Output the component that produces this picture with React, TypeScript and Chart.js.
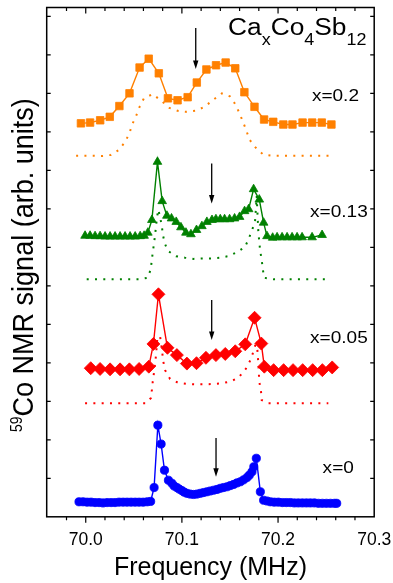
import React, { useEffect, useRef } from 'react';
import { Chart, registerables } from 'chart.js';

Chart.register(...registerables);

// ---------- axes ----------
const X_MIN = 69.9594;
const X_MAX = 70.3;
const Y_MIN = 0;
const Y_MAX = 13.23;
const X_TICKS = [70.0, 70.1, 70.2, 70.3];
const X_MINOR_TICKS = [69.98, 70.0, 70.02, 70.04, 70.06, 70.08, 70.1, 70.12, 70.14, 70.16, 70.18, 70.2, 70.22, 70.24, 70.26, 70.28];
const Y_TICKS = [1, 2, 3, 4, 5, 6, 7, 8, 9, 10, 11, 12, 13];

// ---------- x = 0.2 (orange squares) ----------
const F_02 = [69.995, 70.0045, 70.015, 70.025, 70.035, 70.0455, 70.056, 70.0655, 70.076, 70.0855, 70.0955, 70.106, 70.1155, 70.1255, 70.1355, 70.1455, 70.1555, 70.165, 70.1755, 70.1855, 70.195, 70.2055, 70.215, 70.2255, 70.2355, 70.2455, 70.2555];
const S_02 = [10.22, 10.24, 10.30, 10.39, 10.67, 11.00, 11.67, 11.90, 11.52, 10.87, 10.82, 10.90, 11.28, 11.62, 11.73, 11.80, 11.65, 11.03, 10.65, 10.32, 10.26, 10.19, 10.19, 10.24, 10.24, 10.24, 10.19];
const SIM_F_02 = [69.990, 69.998, 70.0075, 70.0165, 70.026, 70.0345, 70.041, 70.0455, 70.0485, 70.0525, 70.056, 70.0605, 70.0695, 70.0785, 70.087, 70.0965, 70.105, 70.115, 70.1235, 70.132, 70.1415, 70.150, 70.1555, 70.160, 70.1635, 70.167, 70.170, 70.176, 70.1845, 70.194, 70.213, 70.2335, 70.2575];
const SIM_S_02 = [9.38, 9.38, 9.38, 9.37, 9.40, 9.53, 9.74, 9.97, 10.20, 10.42, 10.65, 10.87, 10.98, 10.81, 10.62, 10.54, 10.52, 10.55, 10.65, 10.82, 11.00, 10.92, 10.72, 10.48, 10.26, 10.04, 9.81, 9.61, 9.41, 9.38, 9.38, 9.38, 9.38];

// ---------- x = 0.13 (green triangles) ----------
const F_013 = [69.9993, 70.0045, 70.0097, 70.0149, 70.0201, 70.0253, 70.0305, 70.0357, 70.0409, 70.0461, 70.0514, 70.0566, 70.0607, 70.0646, 70.0688, 70.0746, 70.0795, 70.0844, 70.0892, 70.0941, 70.0990, 70.1042, 70.1094, 70.1152, 70.1208, 70.1260, 70.1313, 70.1354, 70.1399, 70.1444, 70.1496, 70.1548, 70.1600, 70.1652, 70.1694, 70.1746, 70.1805, 70.1850, 70.1885, 70.1944, 70.1990, 70.2042, 70.2094, 70.2146, 70.2198, 70.2250, 70.2354, 70.2458];
const S_013 = [7.30, 7.30, 7.29, 7.29, 7.28, 7.28, 7.28, 7.28, 7.28, 7.28, 7.28, 7.29, 7.30, 7.38, 7.71, 9.22, 8.20, 7.82, 7.75, 7.66, 7.52, 7.38, 7.34, 7.45, 7.55, 7.66, 7.71, 7.73, 7.73, 7.73, 7.73, 7.75, 7.79, 7.94, 7.99, 8.51, 8.24, 7.64, 7.29, 7.25, 7.26, 7.26, 7.26, 7.26, 7.26, 7.26, 7.26, 7.32];
const SIM_F_013 = [70.0010, 70.0097, 70.0180, 70.0274, 70.0367, 70.0461, 70.0554, 70.0645, 70.0676, 70.0686, 70.0697, 70.0710, 70.0721, 70.0731, 70.0741, 70.0755, 70.0773, 70.0790, 70.0801, 70.0817, 70.0853, 70.0939, 70.1033, 70.1119, 70.1206, 70.1303, 70.1389, 70.1483, 70.1570, 70.1657, 70.1701, 70.1733, 70.1761, 70.1778, 70.1795, 70.1813, 70.1830, 70.1841, 70.1854, 70.1951, 70.2125, 70.2302, 70.2489];
const SIM_S_013 = [6.17, 6.17, 6.17, 6.17, 6.17, 6.17, 6.17, 6.21, 6.43, 6.65, 6.87, 7.10, 7.32, 7.55, 7.78, 7.98, 7.78, 7.58, 7.36, 7.14, 6.91, 6.77, 6.73, 6.70, 6.71, 6.71, 6.73, 6.77, 6.87, 7.01, 7.26, 7.47, 7.68, 8.33, 7.40, 6.93, 6.67, 6.45, 6.21, 6.17, 6.17, 6.17, 6.17];

// ---------- x = 0.05 (red diamonds) ----------
const F_005 = [70.0052, 70.0149, 70.0253, 70.0357, 70.0454, 70.0555, 70.0656, 70.0704, 70.0756, 70.0850, 70.0948, 70.1052, 70.1152, 70.1250, 70.1354, 70.1451, 70.1555, 70.1659, 70.1756, 70.1826, 70.1857, 70.1954, 70.2058, 70.2156, 70.2256, 70.2360, 70.2461, 70.2563];
const S_005 = [3.86, 3.84, 3.83, 3.83, 3.83, 3.84, 3.90, 4.49, 5.78, 4.39, 4.20, 3.98, 3.99, 4.13, 4.20, 4.23, 4.30, 4.48, 5.17, 4.50, 3.90, 3.81, 3.81, 3.81, 3.81, 3.81, 3.81, 3.88];
const SIM_F_005 = [69.9993, 70.0079, 70.0170, 70.0263, 70.0357, 70.0440, 70.0533, 70.0627, 70.0679, 70.0697, 70.0710, 70.0721, 70.0731, 70.0745, 70.0773, 70.0790, 70.0807, 70.0825, 70.0877, 70.0963, 70.1056, 70.1147, 70.1233, 70.1327, 70.1414, 70.1500, 70.1587, 70.1664, 70.1719, 70.1760, 70.1778, 70.1795, 70.1805, 70.1823, 70.1830, 70.1899, 70.2072, 70.2228, 70.2384, 70.2523];
const SIM_S_005 = [2.95, 2.95, 2.95, 2.95, 2.95, 2.95, 2.95, 2.95, 3.09, 3.51, 3.75, 3.98, 4.20, 4.65, 4.69, 4.38, 4.03, 3.81, 3.58, 3.48, 3.45, 3.44, 3.44, 3.45, 3.47, 3.51, 3.61, 3.84, 4.10, 4.43, 4.59, 3.98, 3.51, 3.25, 3.03, 2.95, 2.95, 2.95, 2.95, 2.95];

// ---------- x = 0 (blue circles) ----------
const F_0 = [69.9930, 69.9972, 70.0014, 70.0055, 70.0097, 70.0139, 70.0180, 70.0222, 70.0264, 70.0305, 70.0347, 70.0389, 70.0430, 70.0472, 70.0514, 70.0555, 70.0597, 70.0639, 70.0675,
  70.0711, 70.0750, 70.0784, 70.0819, 70.0860, 70.0896, 70.0920, 70.0948, 70.0972, 70.1000, 70.1024, 70.1052, 70.1086, 70.1121, 70.1156, 70.1191, 70.1225, 70.1260, 70.1295, 70.1329, 70.1365, 70.1399, 70.1433, 70.1469, 70.1503, 70.1538, 70.1573, 70.1608, 70.1642, 70.1677, 70.1701, 70.1729, 70.1748, 70.1774, 70.1816, 70.1850,
  70.1885, 70.1920, 70.1961, 70.2003, 70.2045, 70.2086, 70.2128, 70.2170, 70.2211, 70.2253, 70.2295, 70.2336, 70.2378, 70.2420, 70.2461, 70.2503, 70.2545, 70.2586, 70.2610];
const S_0 = [0.39, 0.39, 0.38, 0.38, 0.37, 0.37, 0.36, 0.37, 0.37, 0.37, 0.38, 0.38, 0.38, 0.38, 0.38, 0.38, 0.38, 0.39, 0.40,
  0.76, 2.38, 1.89, 1.21, 0.95, 0.87, 0.80, 0.76, 0.72, 0.68, 0.64, 0.61, 0.59, 0.58, 0.59, 0.61, 0.63, 0.65, 0.67, 0.69, 0.71, 0.74, 0.76, 0.78, 0.81, 0.84, 0.88, 0.91, 0.96, 1.02, 1.08, 1.17, 1.30, 1.52, 0.65, 0.43,
  0.41, 0.39, 0.38, 0.38, 0.37, 0.37, 0.37, 0.36, 0.36, 0.36, 0.36, 0.36, 0.36, 0.35, 0.35, 0.35, 0.35, 0.35, 0.35];

// ---------- annotations ----------
const SERIES_LABELS = ['x=0.2', 'x=0.13', 'x=0.05', 'x=0'];
const LABEL_F = [70.2597, 70.2633, 70.2633, 70.2626];
const LABEL_V = [10.808, 7.795, 4.506, 1.130];
const ARROW_F = [70.1144, 70.1310, 70.1310, 70.1355];
const ARROW_FROM = [12.70, 9.18, 5.63, 2.05];
const ARROW_TO = [11.63, 8.14, 4.59, 1.04];
const TITLE_PARTS = ['Ca', 'x', 'Co', '4', 'Sb', '12'];
const TITLE_SUB = [false, true, false, true, false, true];
const TITLE_F = 70.148;
const TITLE_V = 12.514;
const Y_TITLE_SUP = '59';
const Y_TITLE_MAIN = 'Co NMR signal (arb. units)';
const X_TITLE = 'Frequency (MHz)';

const FONT = '"Liberation Sans", Arial, Helvetica, sans-serif';
const SX = 1.12;

const ORANGE = '#ff8000';
const GREEN = '#008000';
const RED = '#ff0000';
const BLUE = '#0000ff';

const pts = (xs: number[], ys: number[]) => xs.map((x, i) => ({ x, y: ys[i] }));

function drawStretched(ctx: CanvasRenderingContext2D, text: string, x: number, y: number, size: number, align: 'left' | 'center' = 'left') {
  ctx.save();
  ctx.font = `${size}px ${FONT}`;
  const w = ctx.measureText(text).width * SX;
  const x0 = align === 'center' ? x - w / 2 : x;
  ctx.translate(x0, y);
  ctx.scale(SX, 1);
  ctx.textAlign = 'left';
  ctx.textBaseline = 'alphabetic';
  ctx.fillStyle = '#000';
  ctx.fillText(text, 0, 0);
  ctx.restore();
  return w;
}

const decorPlugin = {
  id: 'decor',
  afterDatasetsDraw(chart: any) {
    const { ctx, scales } = chart;
    const xs = scales.x;
    const ys = scales.y;
    ctx.save();
    ctx.strokeStyle = '#000';
    ctx.fillStyle = '#000';
    ctx.lineWidth = 1.3;
    for (let i = 0; i < ARROW_F.length; i++) {
      const px = xs.getPixelForValue(ARROW_F[i]);
      const y0 = ys.getPixelForValue(ARROW_FROM[i]);
      const y1 = ys.getPixelForValue(ARROW_TO[i]);
      ctx.beginPath();
      ctx.moveTo(px, y0);
      ctx.lineTo(px, y1 - 6);
      ctx.stroke();
      ctx.beginPath();
      ctx.moveTo(px - 2.7, y1 - 8.5);
      ctx.lineTo(px + 2.7, y1 - 8.5);
      ctx.lineTo(px, y1);
      ctx.closePath();
      ctx.fill();
    }
    ctx.restore();
  },
  afterDraw(chart: any) {
    const { ctx, chartArea, scales } = chart;
    const { left, right, top, bottom } = chartArea;
    const xs = scales.x;
    const ys = scales.y;
    ctx.save();
    ctx.strokeStyle = '#000';
    ctx.lineWidth = 1.5;
    ctx.strokeRect(left, top, right - left, bottom - top);
    ctx.lineWidth = 1.2;
    ctx.beginPath();
    for (const v of X_MINOR_TICKS) {
      const px = xs.getPixelForValue(v);
      const major = X_TICKS.some((t) => Math.abs(t - v) < 1e-6);
      const len = major ? 6 : 3.5;
      ctx.moveTo(px, bottom);
      ctx.lineTo(px, bottom + len);
      ctx.moveTo(px, top);
      ctx.lineTo(px, top + len);
    }
    for (const v of Y_TICKS) {
      const py = ys.getPixelForValue(v);
      ctx.moveTo(left, py);
      ctx.lineTo(left + 4, py);
      ctx.moveTo(right, py);
      ctx.lineTo(right - 4, py);
    }
    ctx.stroke();

    // series labels
    for (let i = 0; i < SERIES_LABELS.length; i++) {
      drawStretched(ctx, SERIES_LABELS[i], xs.getPixelForValue(LABEL_F[i]), ys.getPixelForValue(LABEL_V[i]), 17, 'center');
    }

    // compound title
    let cx = xs.getPixelForValue(TITLE_F);
    const by = ys.getPixelForValue(TITLE_V);
    for (let i = 0; i < TITLE_PARTS.length; i++) {
      const sub = TITLE_SUB[i];
      cx += drawStretched(ctx, TITLE_PARTS[i], cx, by + (sub ? 10 : 0), sub ? 16 : 23.5);
    }

    // y title (rotated, with superscript)
    ctx.font = `14px ${FONT}`;
    const wSup = ctx.measureText(Y_TITLE_SUP).width;
    ctx.font = `27px ${FONT}`;
    const wMain = ctx.measureText(Y_TITLE_MAIN).width;
    const total = wSup + wMain;
    const cy = (top + bottom) / 2 + 3;
    ctx.translate(33.3, cy);
    ctx.scale(SX, 1);
    ctx.rotate(-Math.PI / 2);
    ctx.fillStyle = '#000';
    ctx.textAlign = 'left';
    ctx.textBaseline = 'alphabetic';
    ctx.font = `14px ${FONT}`;
    ctx.fillText(Y_TITLE_SUP, -total / 2, -11.5 / SX);
    ctx.font = `27px ${FONT}`;
    ctx.fillText(Y_TITLE_MAIN, -total / 2 + wSup, 0);
    ctx.restore();
  },
};

export default function App() {
  const ref = useRef<HTMLCanvasElement>(null);
  useEffect(() => {
    const canvas = ref.current;
    if (!canvas) return;
    const lineDs = (label: string, xs: number[], ys: number[], color: string, style: string, radius: number) => ({
      label,
      data: pts(xs, ys),
      borderColor: color,
      backgroundColor: color,
      borderWidth: 1.4,
      pointStyle: style,
      pointRadius: radius,
      pointHoverRadius: radius,
      pointBorderWidth: 0.8,
      pointBorderColor: color,
      pointBackgroundColor: color,
      tension: 0,
      fill: false,
    });
    const simDs = (label: string, xs: number[], ys: number[], color: string) => ({
      label,
      data: pts(xs, ys),
      borderColor: color,
      backgroundColor: color,
      borderWidth: 2,
      borderDash: [2, 6.3],
      borderCapStyle: 'butt',
      pointRadius: 0,
      pointHoverRadius: 0,
      tension: 0,
      fill: false,
    });
    const chart = new Chart(canvas, {
      type: 'line',
      data: {
        datasets: [
          lineDs(SERIES_LABELS[0], F_02, S_02, ORANGE, 'rect', 5.3),
          simDs(SERIES_LABELS[0] + ' sim', SIM_F_02, SIM_S_02, ORANGE),
          lineDs(SERIES_LABELS[1], F_013, S_013, GREEN, 'triangle', 5),
          simDs(SERIES_LABELS[1] + ' sim', SIM_F_013, SIM_S_013, GREEN),
          lineDs(SERIES_LABELS[2], F_005, S_005, RED, 'rectRot', 6.5),
          simDs(SERIES_LABELS[2] + ' sim', SIM_F_005, SIM_S_005, RED),
          lineDs(SERIES_LABELS[3], F_0, S_0, BLUE, 'circle', 4.1),
        ] as any,
      },
      options: {
        animation: false,
        responsive: false,
        devicePixelRatio: 1,
        events: [],
        layout: { padding: { left: 46.7, right: 18.8, top: 7.5, bottom: 0 } },
        plugins: { legend: { display: false }, tooltip: { enabled: false } },
        scales: {
          x: {
            type: 'linear',
            min: X_MIN,
            max: X_MAX,
            afterBuildTicks: (scale: any) => {
              scale.ticks = X_TICKS.map((v) => ({ value: v }));
            },
            afterFit: (scale: any) => {
              scale.height = 66.2;
              scale.paddingLeft = 0;
              scale.paddingRight = 0;
            },
            grid: { display: false, drawTicks: false },
            border: { display: false },
            ticks: {
              color: '#000',
              font: { family: FONT, size: 17.5 },
              padding: 12.7,
              maxRotation: 0,
              callback: (v: any) => Number(v).toFixed(1),
            },
            title: {
              display: true,
              text: X_TITLE,
              color: '#000',
              font: { family: FONT, size: 25 },
              padding: { top: 0, bottom: 0 },
            },
          },
          y: {
            type: 'linear',
            display: false,
            min: Y_MIN,
            max: Y_MAX,
          },
        },
      } as any,
      plugins: [decorPlugin],
    });
    return () => chart.destroy();
  }, []);
  return (
    <div style={{ position: 'absolute', left: 0, top: 0, width: 393, height: 583, background: '#fff' }}>
      <canvas ref={ref} width={393} height={583} style={{ display: 'block', width: 393, height: 583 }} />
    </div>
  );
}
